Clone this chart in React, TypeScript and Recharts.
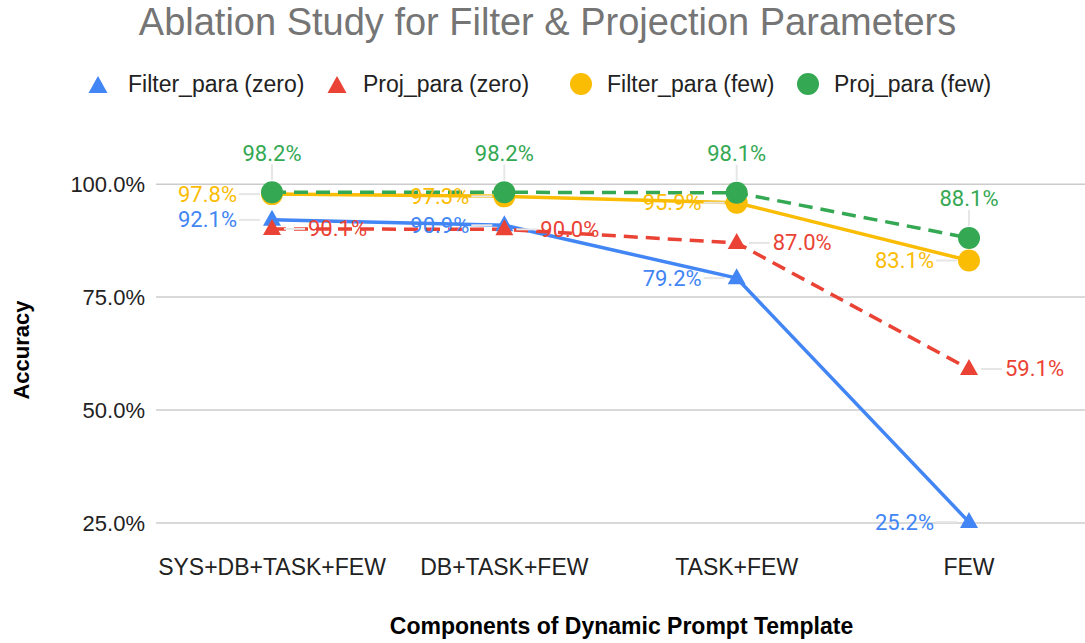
import { LineChart, Line, XAxis, YAxis, CartesianGrid, LabelList } from 'recharts'

const categories = ['SYS+DB+TASK+FEW', 'DB+TASK+FEW', 'TASK+FEW', 'FEW']
const filterZero = [92.1, 90.9, 79.2, 25.2]
const projZero = [90.1, 90.0, 87.0, 59.1]
const filterFew = [97.8, 97.3, 95.9, 83.1]
const projFew = [98.2, 98.2, 98.1, 88.1]
const yTicks = [25, 50, 75, 100]

const BLUE = '#4285f4'
const RED = '#ea4335'
const YELLOW = '#fbbc04'
const GREEN = '#34a853'
const LEADER = '#e6e6e6'

const data = categories.map((c, i) => ({
  name: c,
  filterZero: filterZero[i],
  projZero: projZero[i],
  filterFew: filterFew[i],
  projFew: projFew[i],
}))

const fmt = (v: number) => `${v.toFixed(1)}%`

function triangleDot(color: string) {
  return (p: any) => {
    const { cx, cy, index } = p
    if (cx == null || cy == null) return <g key={index} />
    return <path key={index} d={`M${cx},${cy - 10} L${cx + 9},${cy + 6} L${cx - 9},${cy + 6} Z`} fill={color} />
  }
}

function circleDot(color: string) {
  return (p: any) => {
    const { cx, cy, index } = p
    if (cx == null || cy == null) return <g key={index} />
    return <circle key={index} cx={cx} cy={cy} r={11} fill={color} />
  }
}

// data label with a small grey leader line, like the sheets export
function sideLabel(color: string, side: 'left' | 'right' | 'top') {
  return (p: any) => {
    const { x, y, value } = p
    if (x == null || y == null) return null
    const style = { fontFamily: 'Roboto, sans-serif', fontSize: 22, fill: color }
    if (side === 'top') {
      return (
        <g>
          <line x1={x} x2={x} y1={y - 12} y2={y - 28} stroke={LEADER} strokeWidth={2} />
          <text x={x} y={y - 39} textAnchor="middle" dominantBaseline="central" style={style}>{fmt(value)}</text>
        </g>
      )
    }
    if (side === 'left') {
      return (
        <g>
          <line x1={x - 12} x2={x - 33} y1={y} y2={y} stroke={LEADER} strokeWidth={2} />
          <text x={x - 35} y={y} textAnchor="end" dominantBaseline="central" style={style}>{fmt(value)}</text>
        </g>
      )
    }
    return (
      <g>
        <line x1={x + 12} x2={x + 33} y1={y} y2={y} stroke={LEADER} strokeWidth={2} />
        <text x={x + 36} y={y} textAnchor="start" dominantBaseline="central" style={style}>{fmt(value)}</text>
      </g>
    )
  }
}

const legendItems = [
  { label: 'Filter_para (zero)', color: BLUE, shape: 'tri', x: 98, tx: 128 },
  { label: 'Proj_para (zero)', color: RED, shape: 'tri', x: 337, tx: 363 },
  { label: 'Filter_para (few)', color: YELLOW, shape: 'dot', x: 581, tx: 607 },
  { label: 'Proj_para (few)', color: GREEN, shape: 'dot', x: 808, tx: 834 },
]

const textFont = 'Arial, "Liberation Sans", sans-serif'

export default function App() {
  return (
    <div style={{ position: 'absolute', left: 0, top: 0, width: 1085, height: 643, background: '#fff', fontFamily: textFont }}>
      <div style={{ position: 'absolute', left: 0, top: 0, width: 1095, textAlign: 'center', fontSize: 38, lineHeight: '44px', color: '#757575', whiteSpace: 'nowrap' }}>
        Ablation Study for Filter &amp; Projection Parameters
      </div>

      <svg style={{ position: 'absolute', left: 0, top: 70 }} width={1085} height={30}>
        {legendItems.map((it) =>
          it.shape === 'tri'
            ? <path key={it.label} d={`M${it.x},${6} L${it.x + 9.5},${23} L${it.x - 9.5},${23} Z`} fill={it.color} />
            : <circle key={it.label} cx={it.x} cy={14} r={11} fill={it.color} />
        )}
        {legendItems.map((it) => (
          <text key={it.label + 't'} x={it.tx} y={14} dominantBaseline="central" style={{ fontFamily: textFont, fontSize: 23, fill: '#222' }}>
            {it.label}
          </text>
        ))}
      </svg>

      <div style={{ position: 'absolute', left: 22, top: 350, transform: 'translate(-50%, -50%) rotate(-90deg)', fontSize: 22, fontWeight: 'bold', color: '#000', whiteSpace: 'nowrap' }}>
        Accuracy
      </div>
      <div style={{ position: 'absolute', left: 0, top: 613, width: 1243, textAlign: 'center', fontSize: 23, fontWeight: 'bold', color: '#000' }}>
        Components of Dynamic Prompt Template
      </div>

      <div style={{ position: 'absolute', left: 0, top: 0 }}>
        <LineChart width={1085} height={643} data={data} margin={{ top: 139, right: 0, bottom: 90, left: 56 }}>
          <CartesianGrid vertical={false} horizontalValues={yTicks} stroke="#cccccc" strokeWidth={1.5} />
          <XAxis
            dataKey="name"
            axisLine={false}
            tickLine={false}
            interval={0}
            height={30}
            padding={{ left: 116, right: 116 }}
            tick={(p: any) => (
              <text x={p.x} y={523 + 44} textAnchor="middle" dominantBaseline="central" style={{ fontFamily: textFont, fontSize: 23, fill: '#222' }}>
                {p.payload.value}
              </text>
            )}
          />
          <YAxis
            width={100}
            domain={[25, 110]}
            ticks={yTicks}
            axisLine={false}
            tickLine={false}
            tick={(p: any) => (
              <text x={145} y={p.y} textAnchor="end" dominantBaseline="central" style={{ fontFamily: textFont, fontSize: 22, fill: '#222' }}>
                {`${p.payload.value.toFixed(1)}%`}
              </text>
            )}
          />
          <Line dataKey="filterZero" stroke={BLUE} strokeWidth={3.5} dot={triangleDot(BLUE)} activeDot={false} isAnimationActive={false}>
            <LabelList dataKey="filterZero" content={sideLabel(BLUE, 'left')} />
          </Line>
          <Line dataKey="projZero" stroke={RED} strokeWidth={3.5} strokeDasharray="14 8" dot={triangleDot(RED)} activeDot={false} isAnimationActive={false}>
            <LabelList dataKey="projZero" content={sideLabel(RED, 'right')} />
          </Line>
          <Line dataKey="filterFew" stroke={YELLOW} strokeWidth={3.5} dot={circleDot(YELLOW)} activeDot={false} isAnimationActive={false}>
            <LabelList dataKey="filterFew" content={sideLabel(YELLOW, 'left')} />
          </Line>
          <Line dataKey="projFew" stroke={GREEN} strokeWidth={3.5} strokeDasharray="14 8" dot={circleDot(GREEN)} activeDot={false} isAnimationActive={false}>
            <LabelList dataKey="projFew" content={sideLabel(GREEN, 'top')} />
          </Line>
        </LineChart>
      </div>
    </div>
  )
}
